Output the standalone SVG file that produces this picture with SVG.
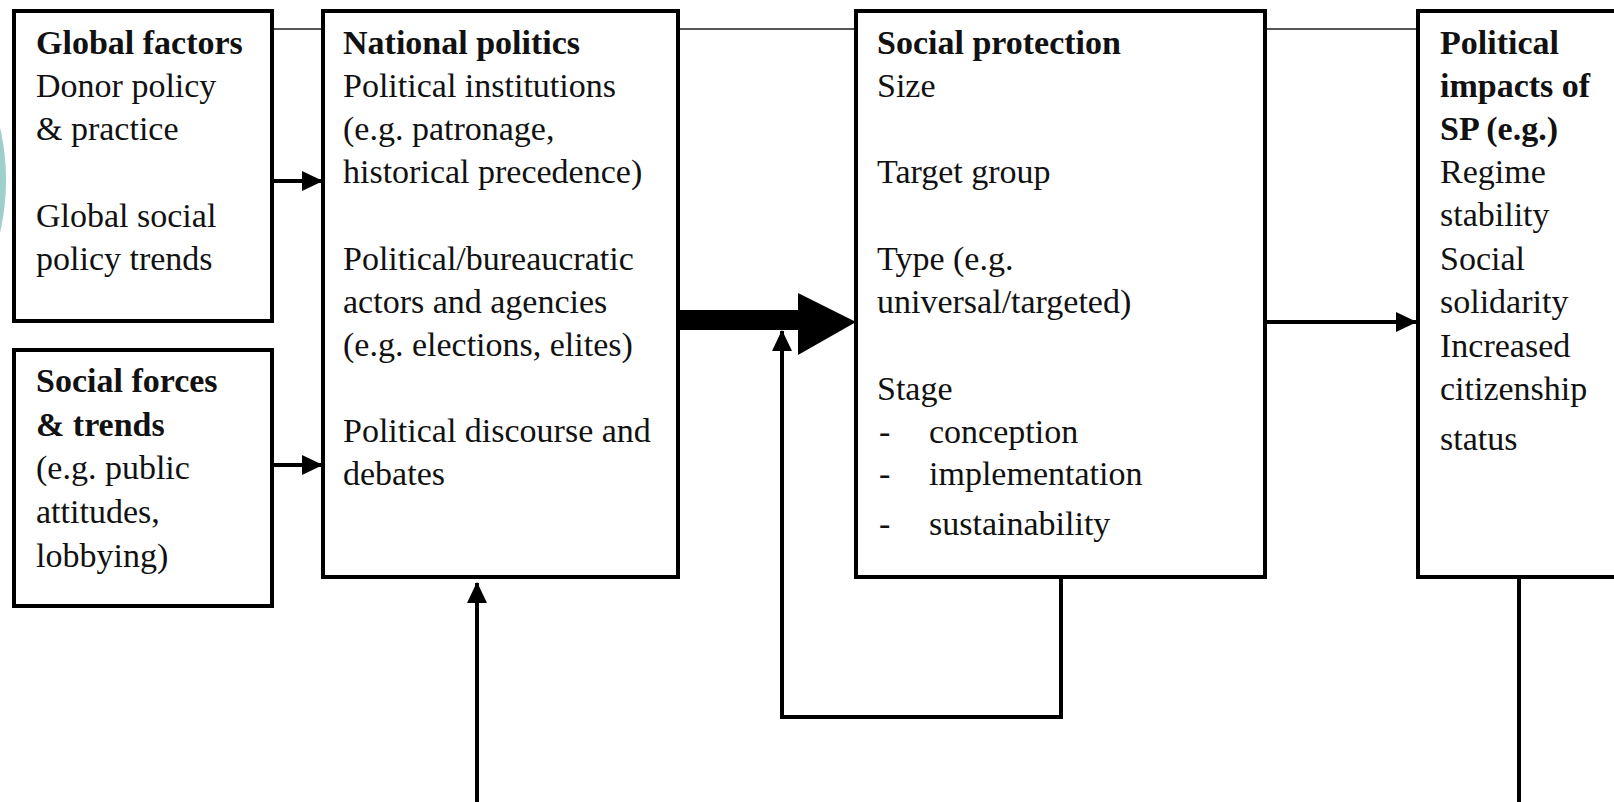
<svg xmlns="http://www.w3.org/2000/svg" width="1614" height="802" viewBox="0 0 1614 802">
<style>
.box{fill:#ffffff;stroke:#000;stroke-width:4}
.t{font-family:"Liberation Serif","Times New Roman",serif;font-size:34px;fill:#111}
.b{font-weight:bold}
.ln{fill:none;stroke:#000;stroke-width:4}
.thin{fill:none;stroke:#555;stroke-width:2}
</style>
<defs>
<marker id="ah" markerUnits="userSpaceOnUse" markerWidth="22" markerHeight="22" refX="20" refY="11" orient="auto">
<path d="M0,1 L21,11 L0,21 z" fill="#000"/>
</marker>
</defs>
<rect width="1614" height="802" fill="#ffffff"/>
<circle cx="-231" cy="180" r="237" fill="#9fcfcb"/>

<g id="connectors">
<path class="thin" d="M272,29 H323 M678,29 H856 M1265,29 H1417"/>
<path class="ln" d="M272,181 H322" marker-end="url(#ah)"/>
<path class="ln" d="M272,465 H322" marker-end="url(#ah)"/>
<path class="ln" d="M1265,322 H1416" marker-end="url(#ah)"/>
<path class="ln" d="M477,802 V583" marker-end="url(#ah)"/>
<path class="ln" d="M1061,577 V717 H782 V331" marker-end="url(#ah)"/>
<path class="ln" d="M1519,577 V802"/>
<rect x="678" y="310" width="122" height="20" fill="#000"/>
<path d="M798,293 L856,322 L798,355 z" fill="#000"/>
</g>

<g id="global">
<rect class="box" x="14" y="11" width="258" height="310"/>
<text class="t" x="36"><tspan class="b" x="36" y="54">Global factors</tspan><tspan x="36" y="97">Donor policy</tspan><tspan x="36" y="140">&amp; practice</tspan><tspan x="36" y="227">Global social</tspan><tspan x="36" y="270">policy trends</tspan></text>
</g>

<g id="social-forces">
<rect class="box" x="14" y="350" width="258" height="256"/>
<text class="t"><tspan class="b" x="36" y="392">Social forces</tspan><tspan class="b" x="36" y="436">&amp; trends</tspan><tspan x="36" y="479">(e.g. public</tspan><tspan x="36" y="523">attitudes,</tspan><tspan x="36" y="567">lobbying)</tspan></text>
</g>

<g id="national">
<rect class="box" x="323" y="11" width="355" height="566"/>
<text class="t"><tspan class="b" x="343" y="54">National politics</tspan><tspan x="343" y="97">Political institutions</tspan><tspan x="343" y="140">(e.g. patronage,</tspan><tspan x="343" y="183">historical precedence)</tspan><tspan x="343" y="270">Political/bureaucratic</tspan><tspan x="343" y="313">actors and agencies</tspan><tspan x="343" y="356">(e.g. elections, elites)</tspan><tspan x="343" y="442">Political discourse and</tspan><tspan x="343" y="485">debates</tspan></text>
</g>

<g id="social-protection">
<rect class="box" x="856" y="11" width="409" height="566"/>
<text class="t"><tspan class="b" x="877" y="54">Social protection</tspan><tspan x="877" y="97">Size</tspan><tspan x="877" y="183">Target group</tspan><tspan x="877" y="270">Type (e.g.</tspan><tspan x="877" y="313">universal/targeted)</tspan><tspan x="877" y="400">Stage</tspan></text>
<text class="t" x="879" y="443">-</text><text class="t" x="929" y="443">conception</text>
<text class="t" x="879" y="485">-</text><text class="t" x="929" y="485">implementation</text>
<text class="t" x="879" y="535">-</text><text class="t" x="929" y="535">sustainability</text>
</g>

<g id="political-impacts">
<rect class="box" x="1418" y="11" width="220" height="566"/>
<text class="t"><tspan class="b" x="1440" y="54">Political</tspan><tspan class="b" x="1440" y="97">impacts of</tspan><tspan class="b" x="1440" y="140">SP (e.g.)</tspan><tspan x="1440" y="183">Regime</tspan><tspan x="1440" y="226">stability</tspan><tspan x="1440" y="270">Social</tspan><tspan x="1440" y="313">solidarity</tspan><tspan x="1440" y="357">Increased</tspan><tspan x="1440" y="400">citizenship</tspan><tspan x="1440" y="450">status</tspan></text>
</g>
</svg>
